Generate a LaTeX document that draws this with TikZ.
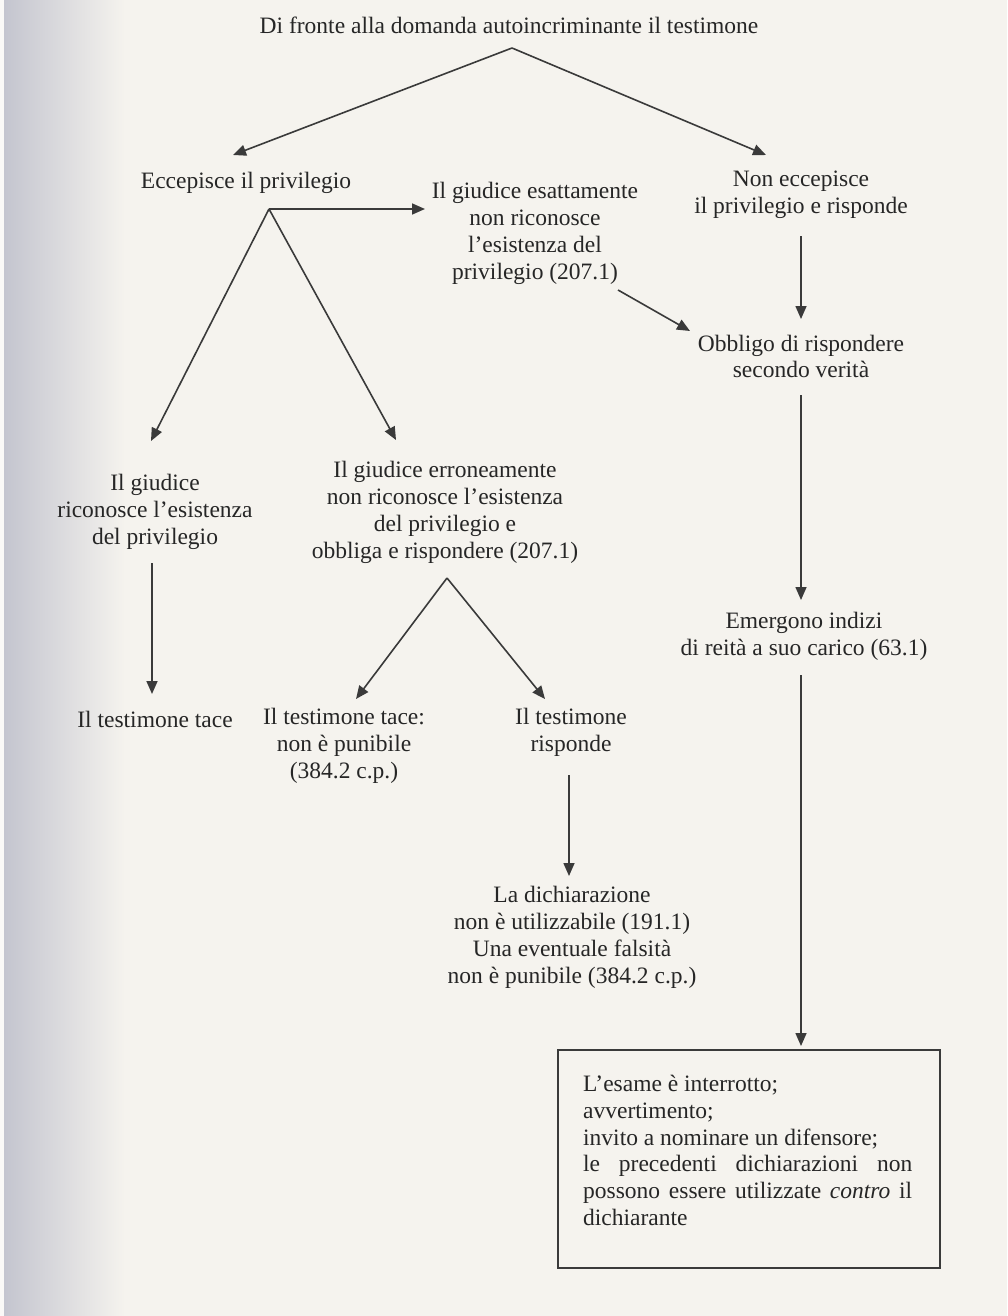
\documentclass[tikz,border=0pt]{standalone}
\usepackage{fontspec}
\setmainfont{Liberation Serif}
\usetikzlibrary{arrows.meta}
\definecolor{paper}{HTML}{F5F3EE}
\definecolor{edge}{HTML}{C4C5CF}
\definecolor{ink}{HTML}{262626}
\definecolor{rule}{HTML}{3A3A3A}
\begin{document}
\begin{tikzpicture}[x=1pt,y=-1pt,
  lbl/.style={inner sep=0pt, align=center, text=ink, font=\fontsize{23.5}{26.8}\selectfont},
  arr/.style={draw=rule, line width=1.6pt, -{Triangle[length=13pt,width=11pt]}},
  frame/.style={draw=rule, line width=1.6pt, inner sep=0pt},
  ]
% page with the shadow along its left edge
\fill[paper] (0,0) rectangle (1007,1316);
\shade[left color=edge, right color=paper] (4,0) rectangle (125,1316);
\fill[white!50!paper] (0,0) rectangle (4,1316);
\useasboundingbox (0,0) rectangle (1007,1316);

% statements
\node[lbl] (top) at (509,25) {Di fronte alla domanda autoincriminante il testimone};
\node[lbl] (ecc) at (246,183) {Eccepisce il privilegio};
\node[lbl] (esatt) at (535,233.5) {Il giudice esattamente\\non riconosce\\l'esistenza del\\privilegio (207.1)};
\node[lbl] (nonecc) at (801,194.5) {Non eccepisce\\il privilegio e risponde};
\node[lbl] (obbligo) at (801,356.5) {Obbligo di rispondere\\secondo verità};
\node[lbl] (emergono) at (804,636.5) {Emergono indizi\\di reità a suo carico (63.1)};
\node[lbl] (ricon) at (155,511.7) {Il giudice\\riconosce l'esistenza\\del privilegio};
\node[lbl] (tace) at (155,719) {Il testimone tace};
\node[lbl] (erron) at (445,512.5) {Il giudice erroneamente\\non riconosce l'esistenza\\del privilegio e\\obbliga e rispondere (207.1)};
\node[lbl] (tacepun) at (344,746) {Il testimone tace:\\non è punibile\\(384.2 c.p.)};
\node[lbl] (risp) at (571,732.5) {Il testimone\\risponde};
\node[lbl] (dich) at (572,937.5) {La dichiarazione\\non è utilizzabile (191.1)\\Una eventuale falsità\\non è punibile (384.2 c.p.)};

% final box
\node[frame, minimum width=382pt, minimum height=218pt] (esame) at (749,1159) {};
\node[lbl, text width=329pt, align=justify, anchor=north west] (esametxt) at (583,1075)
  {L'esame è interrotto;\\avvertimento;\\invito a nominare un difensore;\\le precedenti dichiarazioni non\linebreak possono essere utilizzate \emph{contro} il\linebreak dichiarante};

% branching points and arrow ends
\coordinate (topfork) at (512,48);
\coordinate (eccin) at (233,155);
\coordinate (noneccin) at (766,155);
\coordinate (eccfork) at (269,209);
\coordinate (esattin) at (425,209);
\coordinate (riconin) at (151,441);
\coordinate (erronin) at (396,440);
\coordinate (esattout) at (618,290);
\coordinate (obbligoside) at (690,331);
\coordinate (erronfork) at (447,578);
\coordinate (tacepunin) at (356,699);
\coordinate (rispin) at (545,699);

% connectors
\draw[arr] (topfork) -- (eccin);
\draw[arr] (topfork) -- (noneccin);
\draw[arr] (eccfork) -- (esattin);
\draw[arr] (eccfork) -- (riconin);
\draw[arr] (eccfork) -- (erronin);
\draw[arr] (esattout) -- (obbligoside);
\draw[arr] (801,236) -- (801,319) coordinate (obbligoin);
\draw[arr] (801,395) -- (801,600) coordinate (emergonoin);
\draw[arr] (801,675) -- (801,1046) coordinate (esamein);
\draw[arr] (152,563) -- (152,694) coordinate (tacein);
\draw[arr] (erronfork) -- (tacepunin);
\draw[arr] (erronfork) -- (rispin);
\draw[arr] (569,775) -- (569,876) coordinate (dichin);
\end{tikzpicture}
\end{document}
